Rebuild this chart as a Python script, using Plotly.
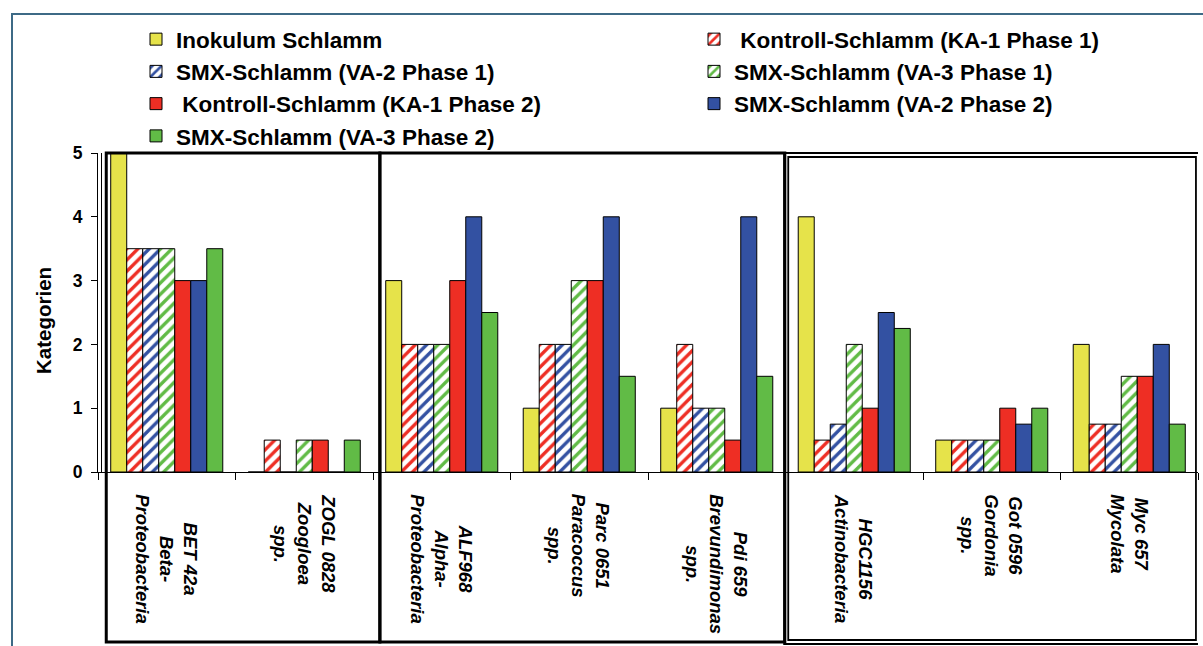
import plotly.graph_objects as go

# ---------------- data ----------------
categories = [
    "BET 42a<br>Beta-<br>Proteobacteria",
    "ZOGL 0828<br>Zoogloea<br>spp.",
    "ALF968<br>Alpha-<br>Proteobacteria",
    "Parc 0651<br>Paracoccus<br>spp.",
    "Pdi 659<br>Brevundimonas<br>spp.",
    "HGC1156<br>Actinobacteria",
    "Got 0596<br>Gordonia<br>spp.",
    "Myc 657<br>Mycolata",
]

inokulum = [5, 0, 3, 1, 1, 4, 0.5, 2]
ka1_p1 = [3.5, 0.5, 2, 2, 2, 0.5, 0.5, 0.75]
va2_p1 = [3.5, 0, 2, 2, 1, 0.75, 0.5, 0.75]
va3_p1 = [3.5, 0.5, 2, 3, 1, 2, 0.5, 1.5]
ka1_p2 = [3, 0.5, 3, 3, 0.5, 1, 1, 1.5]
va2_p2 = [3, 0, 4, 4, 4, 2.5, 0.75, 2]
va3_p2 = [3.5, 0.5, 2.5, 1.5, 1.5, 2.25, 1, 0.75]

series_names = [
    "Inokulum Schlamm",
    " Kontroll-Schlamm (KA-1 Phase 1)",
    "SMX-Schlamm (VA-2 Phase 1)",
    "SMX-Schlamm (VA-3 Phase 1)",
    " Kontroll-Schlamm (KA-1 Phase 2)",
    "SMX-Schlamm (VA-2 Phase 2)",
    "SMX-Schlamm (VA-3 Phase 2)",
]
series_values = [inokulum, ka1_p1, va2_p1, va3_p1, ka1_p2, va2_p2, va3_p2]

y_ticks = [0, 1, 2, 3, 4, 5]
y_title = "Kategorien"

# ---------------- style ----------------
YELLOW = "#E6E34A"
RED = "#EE2E24"
BLUE = "#3351A2"
GREEN = "#61BB46"
series_colors = [YELLOW, RED, BLUE, GREEN, RED, BLUE, GREEN]
series_hatched = [False, True, True, True, False, False, False]
series_legend = ["legend", "legend2", "legend", "legend2", "legend", "legend2", "legend"]

FONT = "Liberation Sans, Arial, sans-serif"

fig = go.Figure()
for name, vals, col, hatch, leg in zip(series_names, series_values, series_colors,
                                       series_hatched, series_legend):
    marker = dict(color="white" if hatch else col, line=dict(color="black", width=1))
    if hatch:
        marker["pattern"] = dict(shape="/", fgcolor=col, bgcolor="white",
                                 size=8, solidity=0.42, fillmode="replace")
    fig.add_trace(go.Bar(x=categories, y=vals, name=name, marker=marker, legend=leg))

W, H = 1203, 646
L, R, T, B = 98, 5, 153, 174
pw, ph = W - L - R, H - T - B


def px_x(p):
    return (p - L) / pw


def px_y(p):
    return (H - B - p) / ph


shapes = []
# outer frame (blue-grey)
shapes.append(dict(type="rect", xref="paper", yref="paper",
                   x0=px_x(12), x1=px_x(1230), y0=px_y(700), y1=px_y(14),
                   line=dict(color="#3D6A86", width=2), fillcolor="rgba(0,0,0,0)", layer="below"))
# second vertical line next to the value axis
shapes.append(dict(type="line", xref="paper", yref="paper",
                   x0=px_x(101.5), x1=px_x(101.5), y0=0, y1=1,
                   line=dict(color="black", width=1)))
# panels (in category units)
shapes.append(dict(type="rect", xref="x", yref="paper", x0=-0.44, x1=1.55,
                   y0=px_y(642), y1=1, line=dict(color="black", width=3)))
shapes.append(dict(type="rect", xref="x", yref="paper", x0=1.55, x1=4.495,
                   y0=px_y(642), y1=1, line=dict(color="black", width=3)))
shapes.append(dict(type="rect", xref="x", yref="paper", x0=4.49, x1=7.515,
                   y0=px_y(644), y1=px_y(153), line=dict(color="black", width=1.8)))
shapes.append(dict(type="rect", xref="x", yref="paper", x0=4.52, x1=7.485,
                   y0=px_y(640), y1=px_y(157), line=dict(color="black", width=1.8)))

annotations = []
for c in categories:
    annotations.append(dict(x=c, xref="x", y=0, yref="paper", yanchor="top",
                            xanchor="center", yshift=-20, text=c, showarrow=False,
                            textangle=90, align="center",
                            font=dict(family=FONT, size=18.5, color="black",
                                      weight="bold", style="italic")))
annotations.append(dict(x=px_x(43), xref="paper", y=px_y(321), yref="paper",
                        xanchor="center", yanchor="middle", text=y_title,
                        showarrow=False, textangle=-90,
                        font=dict(family=FONT, size=20.5, color="black", weight="bold")))

legend_font = dict(family=FONT, size=22.5, weight="bold")
fig.update_layout(
    width=W, height=H,
    margin=dict(l=L, r=R, t=T, b=B, pad=0, autoexpand=False),
    paper_bgcolor="white", plot_bgcolor="white",
    barmode="group", bargap=0.185, bargroupgap=0,
    font=dict(family=FONT, color="black"),
    shapes=shapes, annotations=annotations,
    legend=dict(xref="container", yref="container", x=136 / W, y=1 - 18 / H,
                xanchor="left", yanchor="top", orientation="v",
                font=legend_font, bgcolor="rgba(0,0,0,0)", tracegroupgap=0),
    legend2=dict(xref="container", yref="container", x=694 / W, y=1 - 18 / H,
                 xanchor="left", yanchor="top", orientation="v",
                 font=legend_font, bgcolor="rgba(0,0,0,0)", tracegroupgap=0),
    xaxis=dict(type="category", showticklabels=False, ticks="outside",
               tickson="boundaries", ticklen=7, tickcolor="black",
               showline=True, linecolor="black", linewidth=1, showgrid=False,
               range=[-0.5, 7.5]),
    yaxis=dict(range=[0, 5], tickvals=y_ticks, ticks="outside", ticklen=6,
               tickcolor="black", showline=True, linecolor="black", linewidth=1,
               showgrid=False, zeroline=False, ticklabelstandoff=5,
               tickfont=dict(family=FONT, size=17.5, weight="bold")),
)

fig.write_html("out.html",
               config={"displayModeBar": False},
               post_script="document.body.style.margin='0';document.body.style.overflow='hidden';")
